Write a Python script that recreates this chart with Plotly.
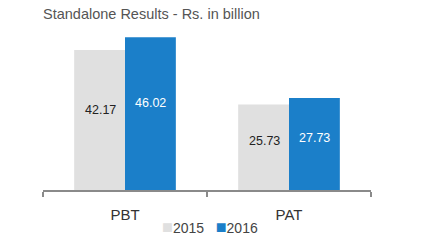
import plotly.graph_objects as go

categories = ["PBT", "PAT"]
values_2015 = [42.17, 25.73]
values_2016 = [46.02, 27.73]
series_names = ["2015", "2016"]
title_text = "Standalone Results - Rs. in billion"

GREY = "#e0e0e0"
BLUE = "#1b7fc9"
FONT = "Liberation Sans, Arial, sans-serif"
W, H = 429, 240
L, R, T, B = 43, 58, 30, 50

fig = go.Figure()
fig.add_trace(go.Bar(x=categories, y=values_2015, name=series_names[0],
                     marker=dict(color=GREY, line=dict(width=0))))
fig.add_trace(go.Bar(x=categories, y=values_2016, name=series_names[1],
                     marker=dict(color=BLUE, line=dict(width=0))))

annotations = []
for vals, shift, col in [(values_2015, -25, "#222222"), (values_2016, 25, "#ffffff")]:
    for c, v in zip(categories, vals):
        annotations.append(dict(x=c, y=v * 0.57, xref="x", yref="y", text=f"{v:.2f}",
                                showarrow=False, xshift=shift,
                                font=dict(family=FONT, size=12.5, color=col)))

# legend drawn as compact annotation (square + label)
legend_text = "&nbsp;&nbsp;&nbsp;".join(
    f"<span style='color:{c};font-size:18px'>■</span>{n}" for c, n in zip([GREY, BLUE], series_names))
annotations.append(dict(x=(210 - L) / (W - L - R), y=-(227 - (H - B)) / (H - T - B),
                        xref="paper", yref="paper", text=legend_text, showarrow=False,
                        xanchor="center", yanchor="middle",
                        font=dict(family=FONT, size=14, color="#444444")))

fig.update_layout(
    width=W, height=H,
    margin=dict(l=L, r=R, t=T, b=B, autoexpand=False),
    paper_bgcolor="white", plot_bgcolor="white",
    barmode="group", bargap=0.38, bargroupgap=0,
    font=dict(family=FONT, size=14, color="#444444"),
    title=dict(text=title_text, x=43 / W, xanchor="left", y=1 - 14 / H, yanchor="middle",
               font=dict(family=FONT, size=14.5, color="#555555")),
    showlegend=False,
    annotations=annotations,
)
fig.update_xaxes(showline=True, linecolor="#8a8a8a", linewidth=2, ticks="outside",
                 tickson="boundaries", ticklen=5, tickwidth=2, tickcolor="#8a8a8a",
                 ticklabelstandoff=10,
                 tickfont=dict(family=FONT, size=15, color="#333333"), showgrid=False)
fig.update_yaxes(visible=False, range=[0, 48.2], showgrid=False)

fig.write_html("out.html")
